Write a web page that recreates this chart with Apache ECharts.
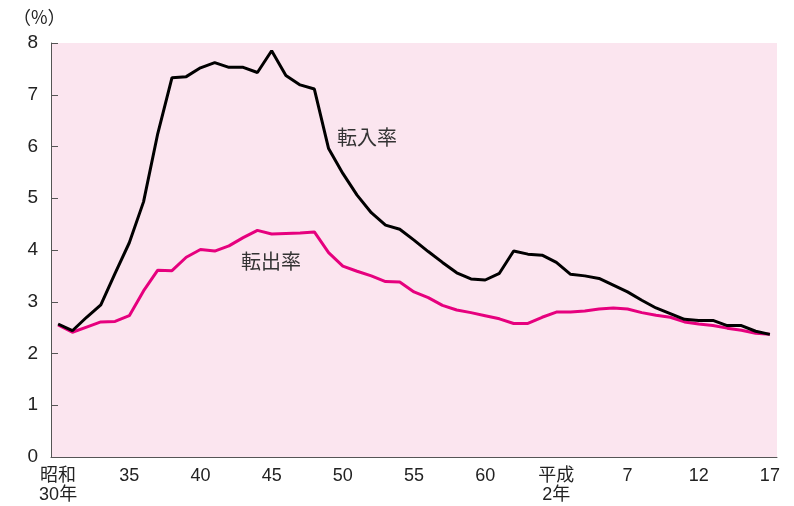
<!DOCTYPE html>
<html><head><meta charset="utf-8">
<script src="https://cdn.jsdelivr.net/npm/echarts@6/dist/echarts.min.js"></script>
<style>html,body{margin:0;padding:0;background:#fff}#c{width:794px;height:506px}</style>
</head><body><div id="c"></div>
<script>
const years = ['昭和30','31','32','33','34','35','36','37','38','39','40','41','42','43','44','45','46','47','48','49','50','51','52','53','54','55','56','57','58','59','60','61','62','63','平成元','2','3','4','5','6','7','8','9','10','11','12','13','14','15','16','17'];
const tickLabels = {0:'昭和\n30年',5:'35',10:'40',15:'45',20:'50',25:'55',30:'60',35:'平成\n2年',40:'7',45:'12',50:'17'};
const inRate = [2.57,2.44,2.70,2.94,3.55,4.14,4.93,6.25,7.33,7.35,7.52,7.62,7.53,7.53,7.43,7.85,7.37,7.19,7.11,5.96,5.48,5.06,4.72,4.48,4.40,4.19,3.97,3.76,3.56,3.44,3.42,3.55,3.98,3.92,3.90,3.76,3.53,3.50,3.45,3.32,3.19,3.03,2.88,2.77,2.66,2.64,2.64,2.54,2.54,2.43,2.37];
const outRate = [2.55,2.41,2.51,2.61,2.62,2.73,3.21,3.61,3.60,3.86,4.01,3.98,4.08,4.24,4.38,4.31,4.32,4.33,4.35,3.95,3.69,3.59,3.50,3.39,3.38,3.19,3.08,2.93,2.84,2.79,2.73,2.67,2.58,2.58,2.70,2.80,2.80,2.82,2.86,2.88,2.86,2.79,2.74,2.70,2.61,2.57,2.54,2.49,2.45,2.39,2.37];
const yTicks = [0,1,2,3,4,5,6,7,8];

const font = 'Liberation Sans, "Noto Sans CJK JP", sans-serif';
const jp = '"Noto Sans CJK JP", sans-serif';
const chart = echarts.init(document.getElementById('c'));
chart.setOption({
  animation: false,
  grid: {left: 51, right: 17, top: 43, bottom: 49, show: true, backgroundColor: '#fbe5ef', borderWidth: 0},
  xAxis: {
    type: 'category', data: years, boundaryGap: true,
    axisLine: {lineStyle: {color: '#555', width: 1}},
    axisTick: {inside: true, length: 7, interval: 0, lineStyle: {color: '#555'}},
    axisLabel: {interval: 0, margin: 10, color: '#222', fontSize: 18, fontFamily: font, lineHeight: 19,
      formatter: (v, i) => tickLabels[i] !== undefined ? tickLabels[i] : ''},
    splitLine: {show: false}
  },
  yAxis: {
    type: 'value', min: yTicks[0], max: yTicks[yTicks.length-1], interval: 1,
    axisLine: {show: true, lineStyle: {color: '#555', width: 1}},
    axisTick: {show: true, inside: true, length: 7, lineStyle: {color: '#555'}},
    axisLabel: {margin: 13, color: '#222', fontSize: 19, fontFamily: font},
    splitLine: {show: false}
  },
  graphic: [
    {type: 'text', left: 13, top: 8, style: {text: '（%）', fontSize: 18, fill: '#222', fontFamily: jp}},
    {type: 'text', left: 337, top: 127, style: {text: '転入率', fontSize: 20, fill: '#333', fontFamily: jp}},
    {type: 'text', left: 241, top: 251, style: {text: '転出率', fontSize: 20, fill: '#333', fontFamily: jp}}
  ],
  series: [
    {name: '転入率', type: 'line', data: inRate, symbol: 'none', lineStyle: {color: '#000', width: 3}, z: 3},
    {name: '転出率', type: 'line', data: outRate, symbol: 'none', lineStyle: {color: '#e6007e', width: 3}, z: 2}
  ]
});
</script></body></html>
